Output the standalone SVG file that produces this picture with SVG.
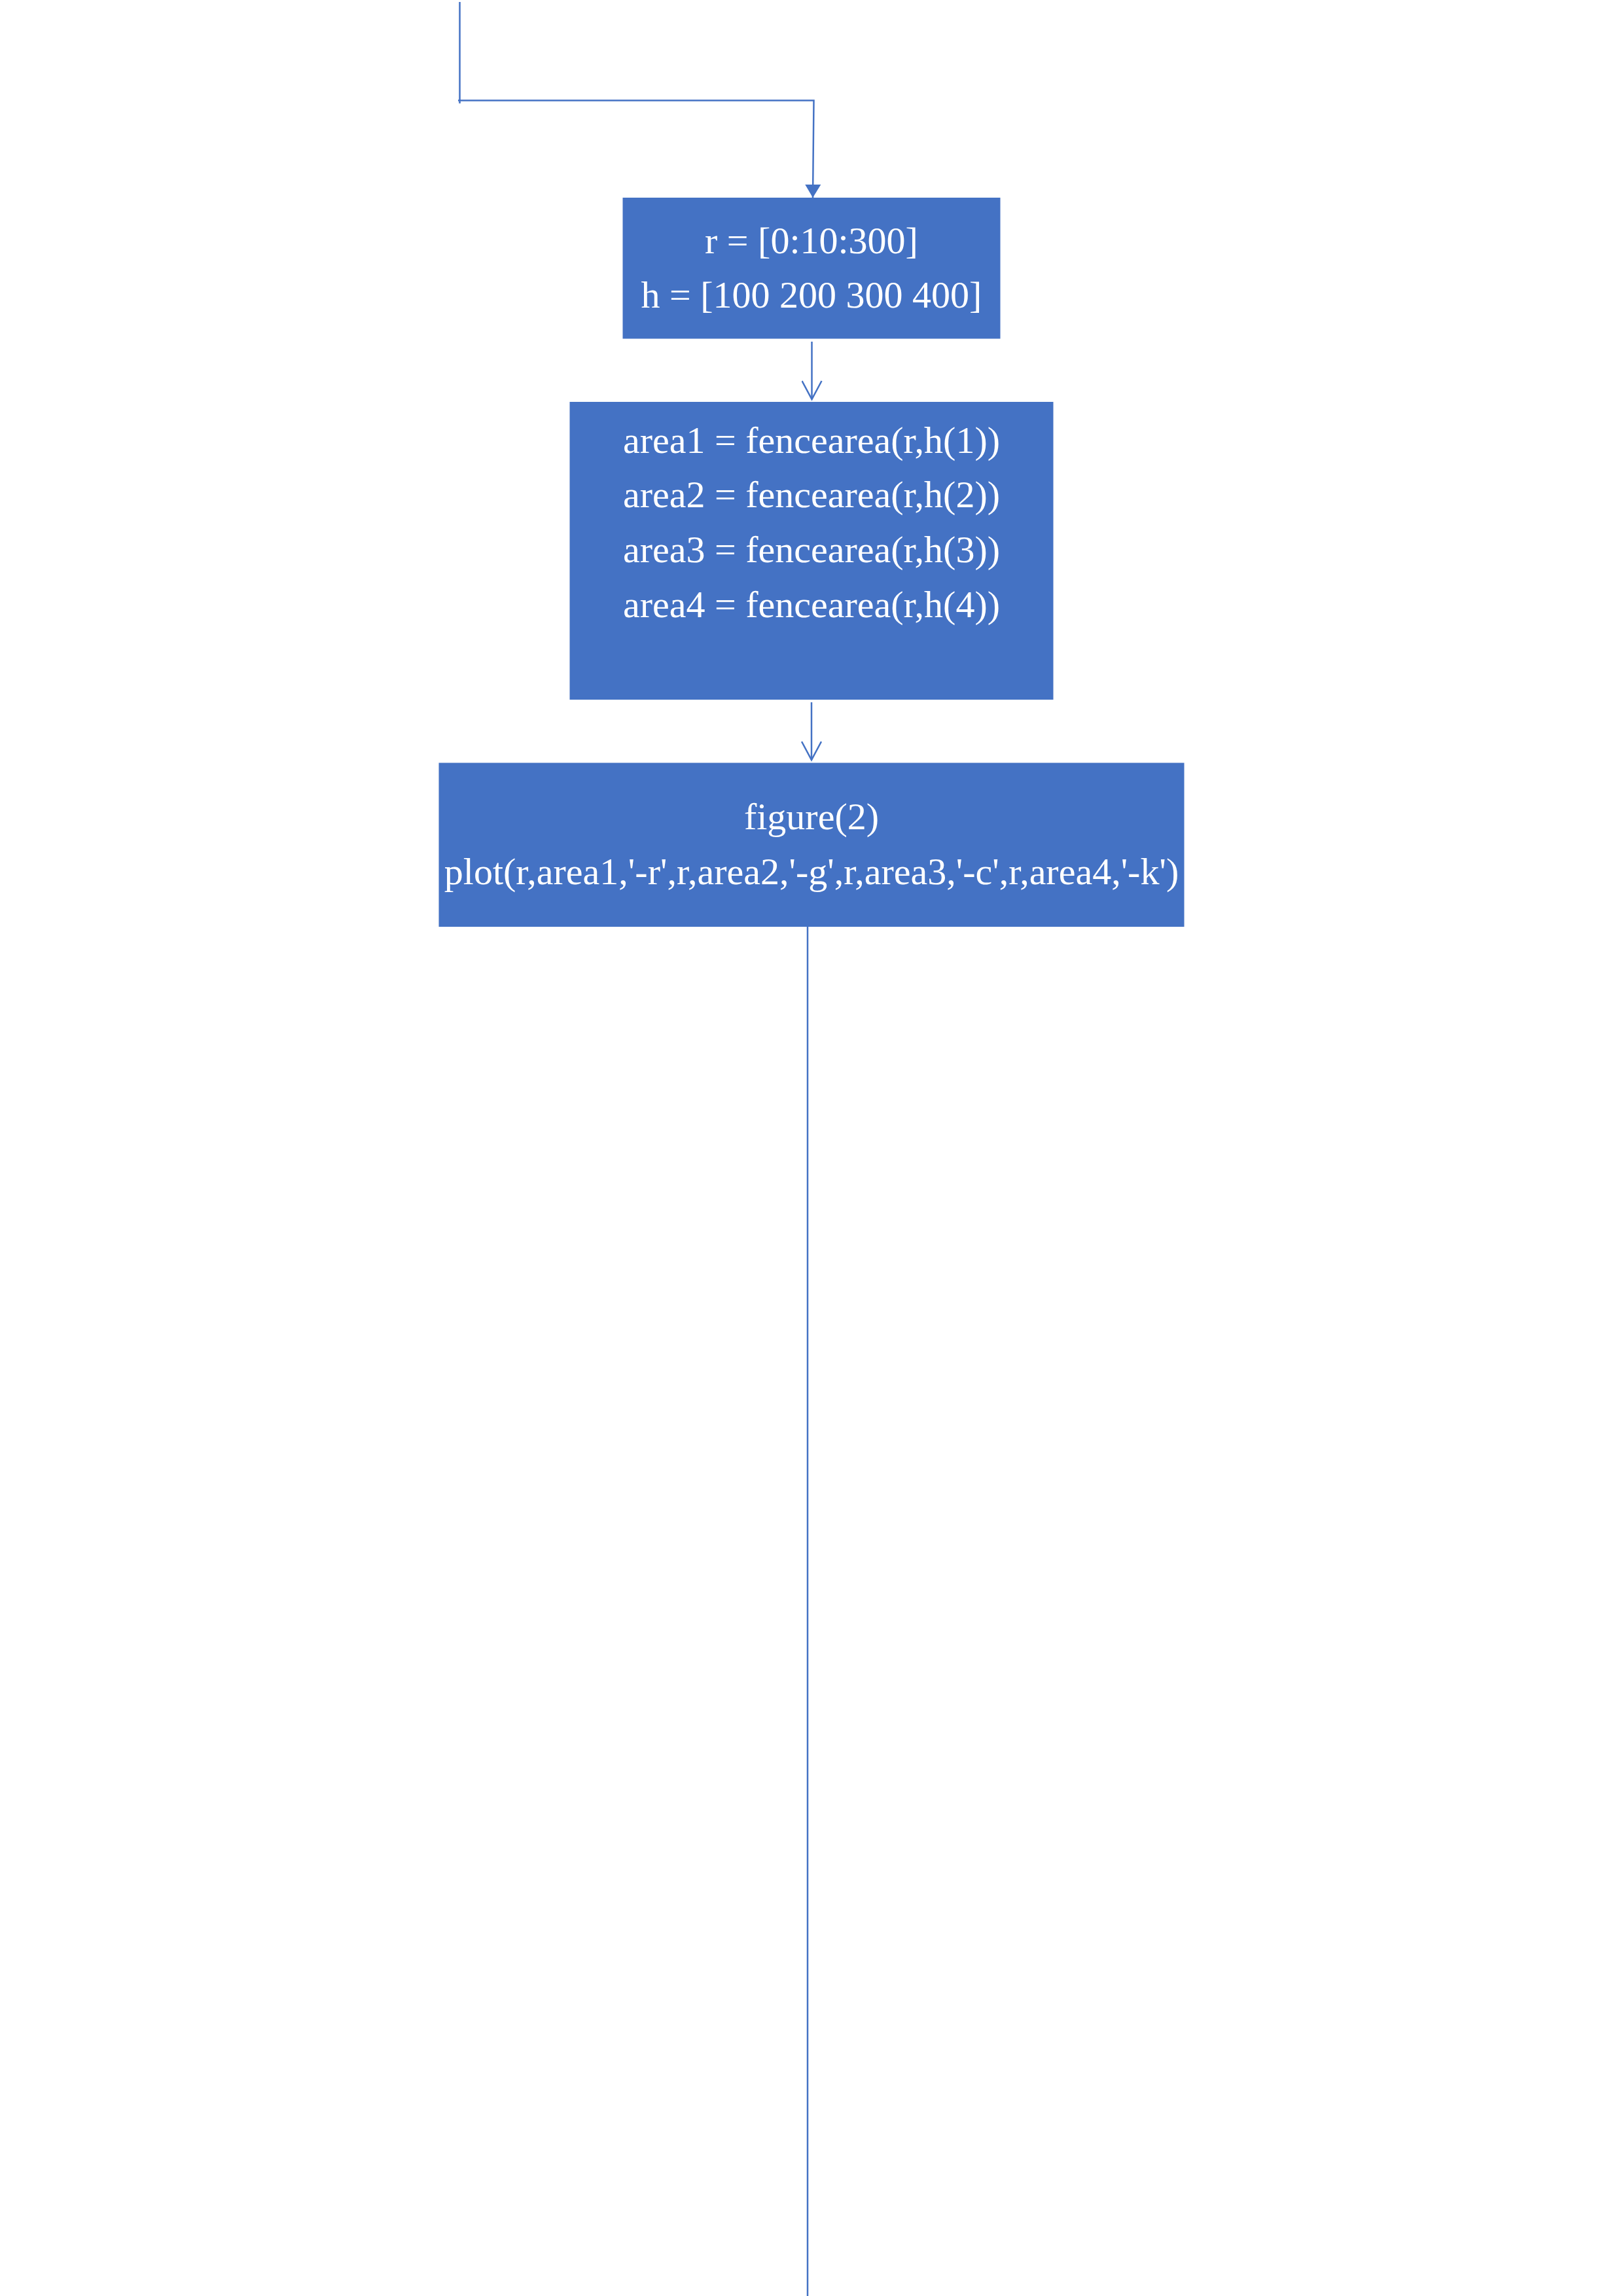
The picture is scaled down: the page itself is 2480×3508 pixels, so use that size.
<svg xmlns="http://www.w3.org/2000/svg" width="2480" height="3508" viewBox="0 0 2480 3508">
<defs>
<style>
.box{fill:#4472C4;}
.t{font-family:"Liberation Serif","Times New Roman",serif;font-size:58px;fill:#FFFFFF;text-anchor:middle;}
.c{fill:none;stroke:#4472C4;stroke-width:2.5;}
</style>
<marker id="filled" markerUnits="userSpaceOnUse" markerWidth="20" markerHeight="24" refX="20" refY="12" orient="auto" viewBox="0 0 20 24">
<path d="M0,0 L20,12 L0,24 Z" fill="#4472C4"/>
</marker>
<marker id="open" markerUnits="userSpaceOnUse" markerWidth="32" markerHeight="32" refX="29" refY="16" orient="auto" viewBox="0 0 32 32">
<path d="M1,1 L29,16 L1,31" fill="none" stroke="#4472C4" stroke-width="2.5"/>
</marker>
</defs>
<rect width="2480" height="3508" fill="#FFFFFF"/>
<g id="connectors">
<path class="c" d="M702.5,3 L702.5,158"/>
<path class="c" d="M700,153.5 L1243.5,153.5 L1242,302" marker-end="url(#filled)"/>
<path class="c" d="M1240.5,522 L1240.5,610" marker-end="url(#open)"/>
<path class="c" d="M1240,1073 L1240,1161" marker-end="url(#open)"/>
<path class="c" d="M1234,1416 L1234,3508"/>
</g>
<g id="node-init">
<rect class="box" x="951.5" y="302" width="577" height="215.5"/>
<text class="t" x="1240" y="386.5">r = [0:10:300]</text>
<text class="t" x="1240" y="470">h = [100 200 300 400]</text>
</g>
<g id="node-areas">
<rect class="box" x="870.5" y="614" width="739" height="455"/>
<text class="t" x="1240" y="691.5">area1 = fencearea(r,h(1))</text>
<text class="t" x="1240" y="775">area2 = fencearea(r,h(2))</text>
<text class="t" x="1240" y="858.5">area3 = fencearea(r,h(3))</text>
<text class="t" x="1240" y="942.5">area4 = fencearea(r,h(4))</text>
</g>
<g id="node-plot">
<rect class="box" x="670.5" y="1165.5" width="1139" height="250.5"/>
<text class="t" x="1240" y="1266.5">figure(2)</text>
<text class="t" x="1240" y="1351">plot(r,area1,'-r',r,area2,'-g',r,area3,'-c',r,area4,'-k')</text>
</g>
</svg>
